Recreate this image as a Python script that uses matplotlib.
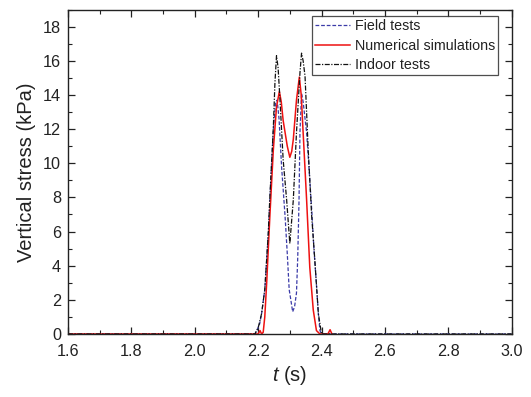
import matplotlib
matplotlib.use("Agg")
import matplotlib.pyplot as plt
from matplotlib.ticker import MultipleLocator

plt.rcParams["font.family"] = ["Liberation Sans", "DejaVu Sans"]
plt.rcParams["mathtext.fontset"] = "custom"
plt.rcParams["mathtext.it"] = "Liberation Sans:italic"
plt.rcParams["mathtext.rm"] = "Liberation Sans"

# Field tests (blue dashed)
field_t = [1.60, 2.190, 2.196, 2.205, 2.211, 2.221, 2.232, 2.240, 2.248, 2.255, 2.260,
           2.266, 2.274, 2.285, 2.292, 2.298, 2.304, 2.309, 2.315, 2.321, 2.325,
           2.329, 2.332, 2.337, 2.342, 2.353, 2.361, 2.369, 2.376, 2.384, 2.390,
           2.395, 2.400, 3.00]
field_v = [0.0, 0.0, 0.2, 0.6, 1.2, 2.6, 5.8, 9.0, 12.0, 13.5, 13.7,
           12.6, 9.8, 6.9, 4.7, 2.6, 1.9, 1.3, 1.6, 2.4, 4.5,
           7.8, 11.8, 14.1, 13.6, 11.8, 9.6, 7.3, 5.0, 2.9, 1.2,
           0.2, 0.0, 0.0]

# Numerical simulations (red solid)
num_t = [1.60, 2.200, 2.206, 2.211, 2.216, 2.221, 2.227, 2.237, 2.248, 2.258,
         2.267, 2.273, 2.279, 2.292, 2.300, 2.306, 2.311, 2.321, 2.330, 2.336,
         2.342, 2.353, 2.363, 2.374, 2.384, 2.395, 2.420, 2.427, 2.433]
num_v = [0.0, 0.0, 0.2, 0.0, 0.1, 1.0, 3.0, 6.9, 10.8, 13.3,
         14.2, 13.6, 12.5, 11.0, 10.35, 10.7, 11.4, 13.7, 15.05, 14.0,
         11.8, 7.85, 3.9, 1.4, 0.2, 0.0, 0.0, 0.25, 0.0]

# Indoor tests (black dash-dot)
indoor_t = [1.60, 2.190, 2.195, 2.200, 2.211, 2.221, 2.232, 2.237, 2.243, 2.248,
            2.253, 2.258, 2.263, 2.269, 2.279, 2.290, 2.300, 2.311, 2.321, 2.332,
            2.337, 2.342, 2.348, 2.358, 2.369, 2.379, 2.390, 2.400, 3.00]
indoor_v = [0.0, 0.0, 0.2, 0.35, 1.2, 2.6, 5.9, 8.0, 10.2, 12.1,
            14.7, 16.3, 15.6, 13.7, 10.2, 7.85, 5.3, 7.85, 11.8, 15.3,
            16.45, 16.0, 15.1, 10.8, 6.9, 4.3, 1.2, 0.0, 0.0]

fig = plt.figure(figsize=(5.31, 3.97), dpi=100)
ax = fig.add_axes([0.128, 0.1587, 0.8356, 0.8171])

ax.plot(field_t, field_v, color="#3b3ba8", linestyle=(0, (3, 1.5)), linewidth=0.9,
        label="Field tests")
ax.plot(num_t, num_v, color="#ee1111", linestyle="-", linewidth=1.1,
        label="Numerical simulations")
ax.plot(indoor_t, indoor_v, color="#111111", linestyle=(0, (4, 1.2, 1, 1.2)),
        linewidth=0.9, label="Indoor tests")

ax.set_xlim(1.6, 3.0)
ax.set_ylim(0, 19)
ax.xaxis.set_major_locator(MultipleLocator(0.2))
ax.xaxis.set_minor_locator(MultipleLocator(0.1))
ax.yaxis.set_major_locator(MultipleLocator(2))
ax.yaxis.set_minor_locator(MultipleLocator(1))
ax.tick_params(which="both", direction="in", top=True, right=True,
               labelsize=11.7, color="#222222", labelcolor="#222222")
ax.tick_params(which="major", length=5, width=0.9)
ax.tick_params(axis="x", which="major", pad=7)
ax.tick_params(axis="y", which="major", pad=5)
ax.tick_params(which="minor", length=3, width=0.8)
for s in ax.spines.values():
    s.set_linewidth(1.0)
    s.set_color("#222222")

ax.set_xlabel("$t$ (s)", fontsize=14.5, color="#222222", labelpad=4)
ax.set_ylabel("Vertical stress (kPa)", fontsize=14.5, color="#222222", labelpad=5)

leg = ax.legend(loc="upper right", fontsize=10.3, frameon=True, fancybox=False,
                borderpad=0.2, labelspacing=0.4, handlelength=2.45,
                handletextpad=0.35, borderaxespad=0.0,
                bbox_to_anchor=(0.9685, 0.980))
leg.get_frame().set_edgecolor("#222222")
leg.get_frame().set_linewidth(0.9)
for t in leg.get_texts():
    t.set_color("#222222")

fig.savefig("out.png", dpi=100)
